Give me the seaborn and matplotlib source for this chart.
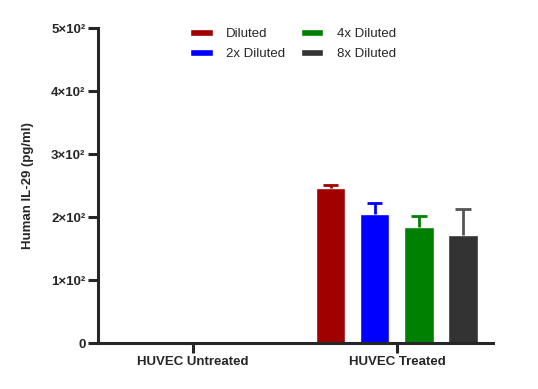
import numpy as np
import pandas as pd
import matplotlib
matplotlib.use('Agg')
import matplotlib.pyplot as plt
import seaborn as sns

categories = ['HUVEC Untreated', 'HUVEC Treated']
dilutions = ['Diluted', '2x Diluted', '4x Diluted', '8x Diluted']
means = [246, 205, 185, 171]
errors = [5, 18, 17, 42]
colors = ['#A00000', '#0000FF', '#008000', '#333333']
err_colors = ['#A00000', '#0000FF', '#008000', '#555555']
ytick_vals = [0, 100, 200, 300, 400, 500]
ytick_labels = ['0', '1×10²', '2×10²', '3×10²', '4×10²', '5×10²']

df = pd.DataFrame({'group': ['HUVEC Treated'] * 4, 'dilution': dilutions, 'value': means})

sns.set_style('white')
plt.rcParams['font.family'] = ['Liberation Sans', 'DejaVu Sans']

fig = plt.figure(figsize=(5.38, 3.89), dpi=100)
ax = fig.add_axes([0.182, 0.118, 0.734, 0.81])
sns.barplot(data=df, x='group', y='value', hue='dilution', order=categories,
            hue_order=dilutions, palette=colors, width=0.864, gap=0.34,
            errorbar=None, ax=ax, saturation=1, legend=True)

# upper-only error bars, GraphPad style
cap = 0.037
for cont, err, col in zip(ax.containers, errors, err_colors):
    for bar in cont:
        xc = bar.get_x() + bar.get_width() / 2
        h = bar.get_height()
        ax.vlines(xc, h, h + err, color=col, lw=2, zorder=1)
        ax.hlines(h + err, xc - cap, xc + cap, color=col, lw=2, zorder=1)

ax.set_xlim(-0.466, 1.47)
ax.set_ylim(0, 500)
ax.set_yticks(ytick_vals)
ax.set_yticklabels(ytick_labels)
ax.set_xlabel('')
ax.set_ylabel('Human IL-29 (pg/ml)', fontsize=9.5, fontweight='bold', labelpad=12)
sns.despine(ax=ax)
for s in ['left', 'bottom']:
    ax.spines[s].set_linewidth(2.2)
ax.tick_params(axis='both', length=7, width=2.2, labelsize=9.5, direction='out',
               left=True, bottom=True, pad=2)
for lab in ax.get_xticklabels() + ax.get_yticklabels():
    lab.set_fontweight('bold')

handles, labels = ax.get_legend_handles_labels()
ax.legend(handles, labels, ncol=2, frameon=False, fontsize=9.5,
          loc='upper center', bbox_to_anchor=(293 / 538, 1 - 16 / 389),
          bbox_transform=fig.transFigure, handlelength=1.7, handleheight=0.45,
          columnspacing=1.2, labelspacing=0.6, handletextpad=1.0)

fig.savefig('out.png', dpi=100)
